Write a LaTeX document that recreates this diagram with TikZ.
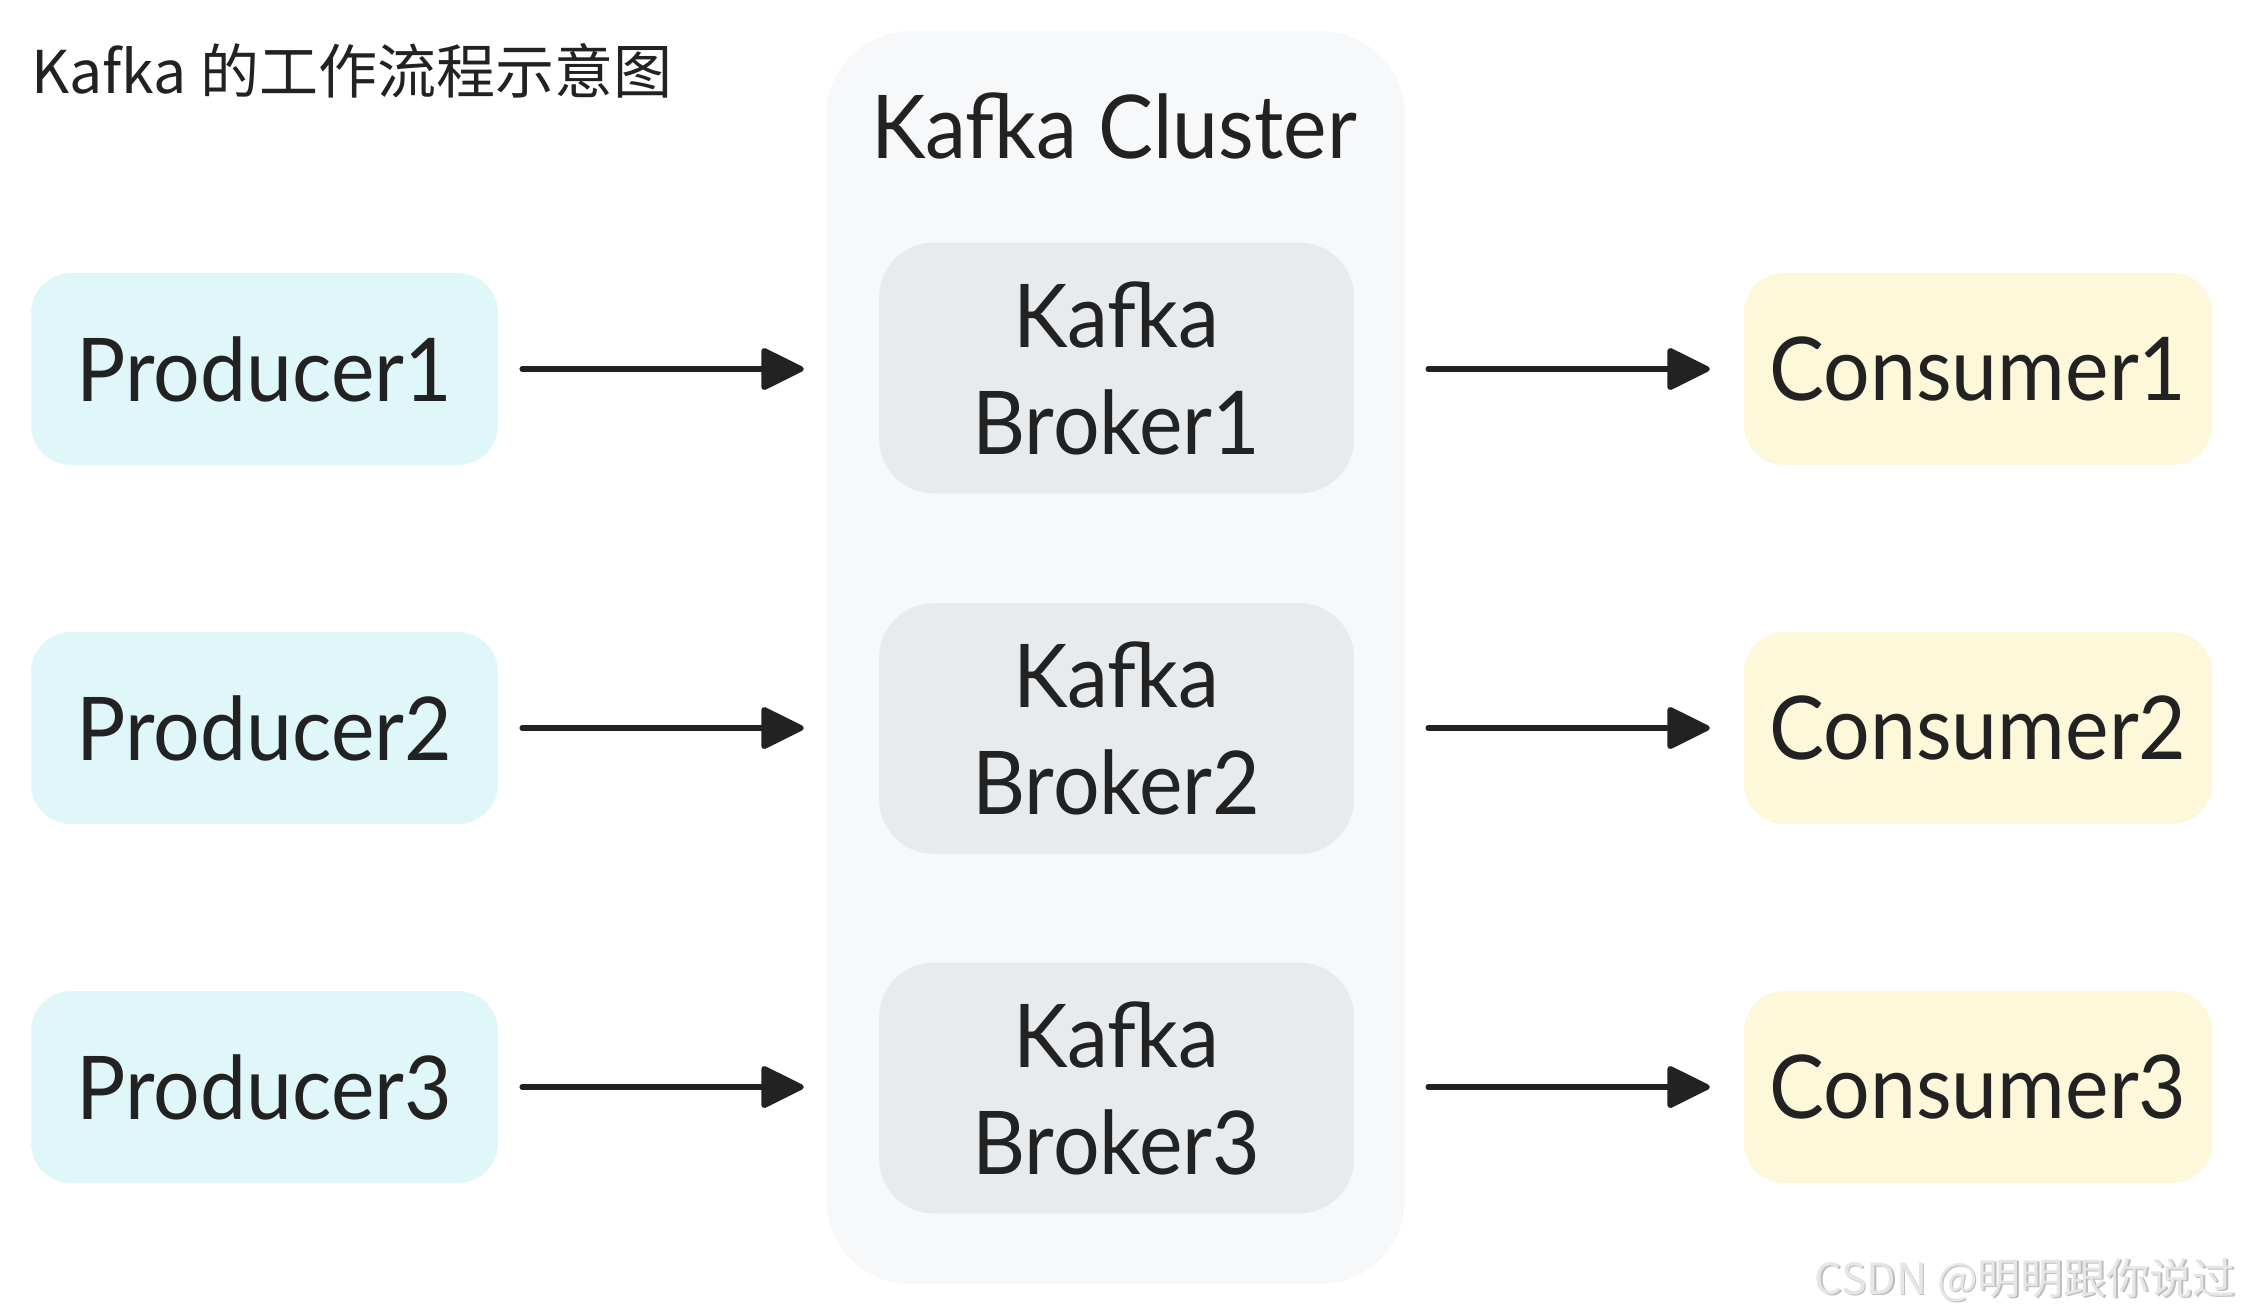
\documentclass[tikz,border=0pt]{standalone}
\usepackage{fontspec}
\setmainfont{Lato}[FakeStretch=0.935]
\newfontfamily\cjkfont{Noto Sans CJK SC}
\usetikzlibrary{arrows.meta}
\definecolor{txt}{HTML}{222222}
\definecolor{prodfill}{HTML}{E0F7FA}
\definecolor{consfill}{HTML}{FEF8DB}
\definecolor{brokfill}{HTML}{E8EBEE}
\definecolor{clusfill}{HTML}{F7F8FA}
\definecolor{wmark}{HTML}{E6E6E6}
\definecolor{wshadow}{HTML}{BDBDBD}
\begin{document}
\begin{tikzpicture}[x=1pt,y=-1pt,
  box/.style={rectangle, rounded corners=40pt, minimum width=467pt, minimum height=192pt, inner sep=0pt, text=txt, font=\fontsize{88}{107}\selectfont},
  prodbox/.style={box, fill=prodfill},
  consbox/.style={box, fill=consfill, minimum width=468pt},
  brokbox/.style={box, fill=brokfill, rounded corners=55pt, minimum width=475pt, minimum height=251pt, align=center},
  flow/.style={draw=txt, line width=5.5pt, line cap=round, -{Triangle[length=46pt, width=44pt, round]}}
]
\useasboundingbox (0,0) rectangle (2242,1315);
\fill[white] (0,0) rectangle (2242,1315);
% cluster
\fill[clusfill, rounded corners=85pt] (826,31) rectangle (1405,1284);
\node[text=txt, font=\fontsize{88}{104}\selectfont, inner sep=0pt] (cl) at (1114,126) {Kafka Cluster};
% title
\node[anchor=west, text=txt, font=\cjkfont\fontsize{59}{70}\selectfont, inner sep=0pt] (title) at (31,71) {Kafka 的工作流程示意图};
% producers
\node[prodbox] (p1) at (264.5,369) {Producer1};
\node[prodbox] (p2) at (264.5,728) {Producer2};
\node[prodbox] (p3) at (264.5,1087) {Producer3};
% brokers
\node[brokbox] (b1) at (1116.5,368) {Kafka\\Broker1};
\node[brokbox] (b2) at (1116.5,728.5) {Kafka\\Broker2};
\node[brokbox] (b3) at (1116.5,1088) {Kafka\\Broker3};
% consumers
\node[consbox] (c1) at (1978,369) {Consumer1};
\node[consbox] (c2) at (1978,728) {Consumer2};
\node[consbox] (c3) at (1978,1087) {Consumer3};
% arrows
\foreach \i in {1,2,3}{
  \draw[flow, shorten <=24pt, shorten >=75pt] (p\i.east) -- (b\i.west |- p\i.east);
  \draw[flow, shorten <=74pt, shorten >=34pt] (b\i.east |- c\i.west) -- (c\i.west);
}
% watermark
\node[anchor=east, text=wshadow, font=\cjkfont\fontsize{43}{50}\selectfont, inner sep=0pt] (wms) at (2237.5,1281.5) {CSDN @明明跟你说过};
\node[anchor=east, text=wmark, font=\cjkfont\fontsize{43}{50}\selectfont, inner sep=0pt] (wm) at (2236,1280) {CSDN @明明跟你说过};
\end{tikzpicture}
\end{document}
